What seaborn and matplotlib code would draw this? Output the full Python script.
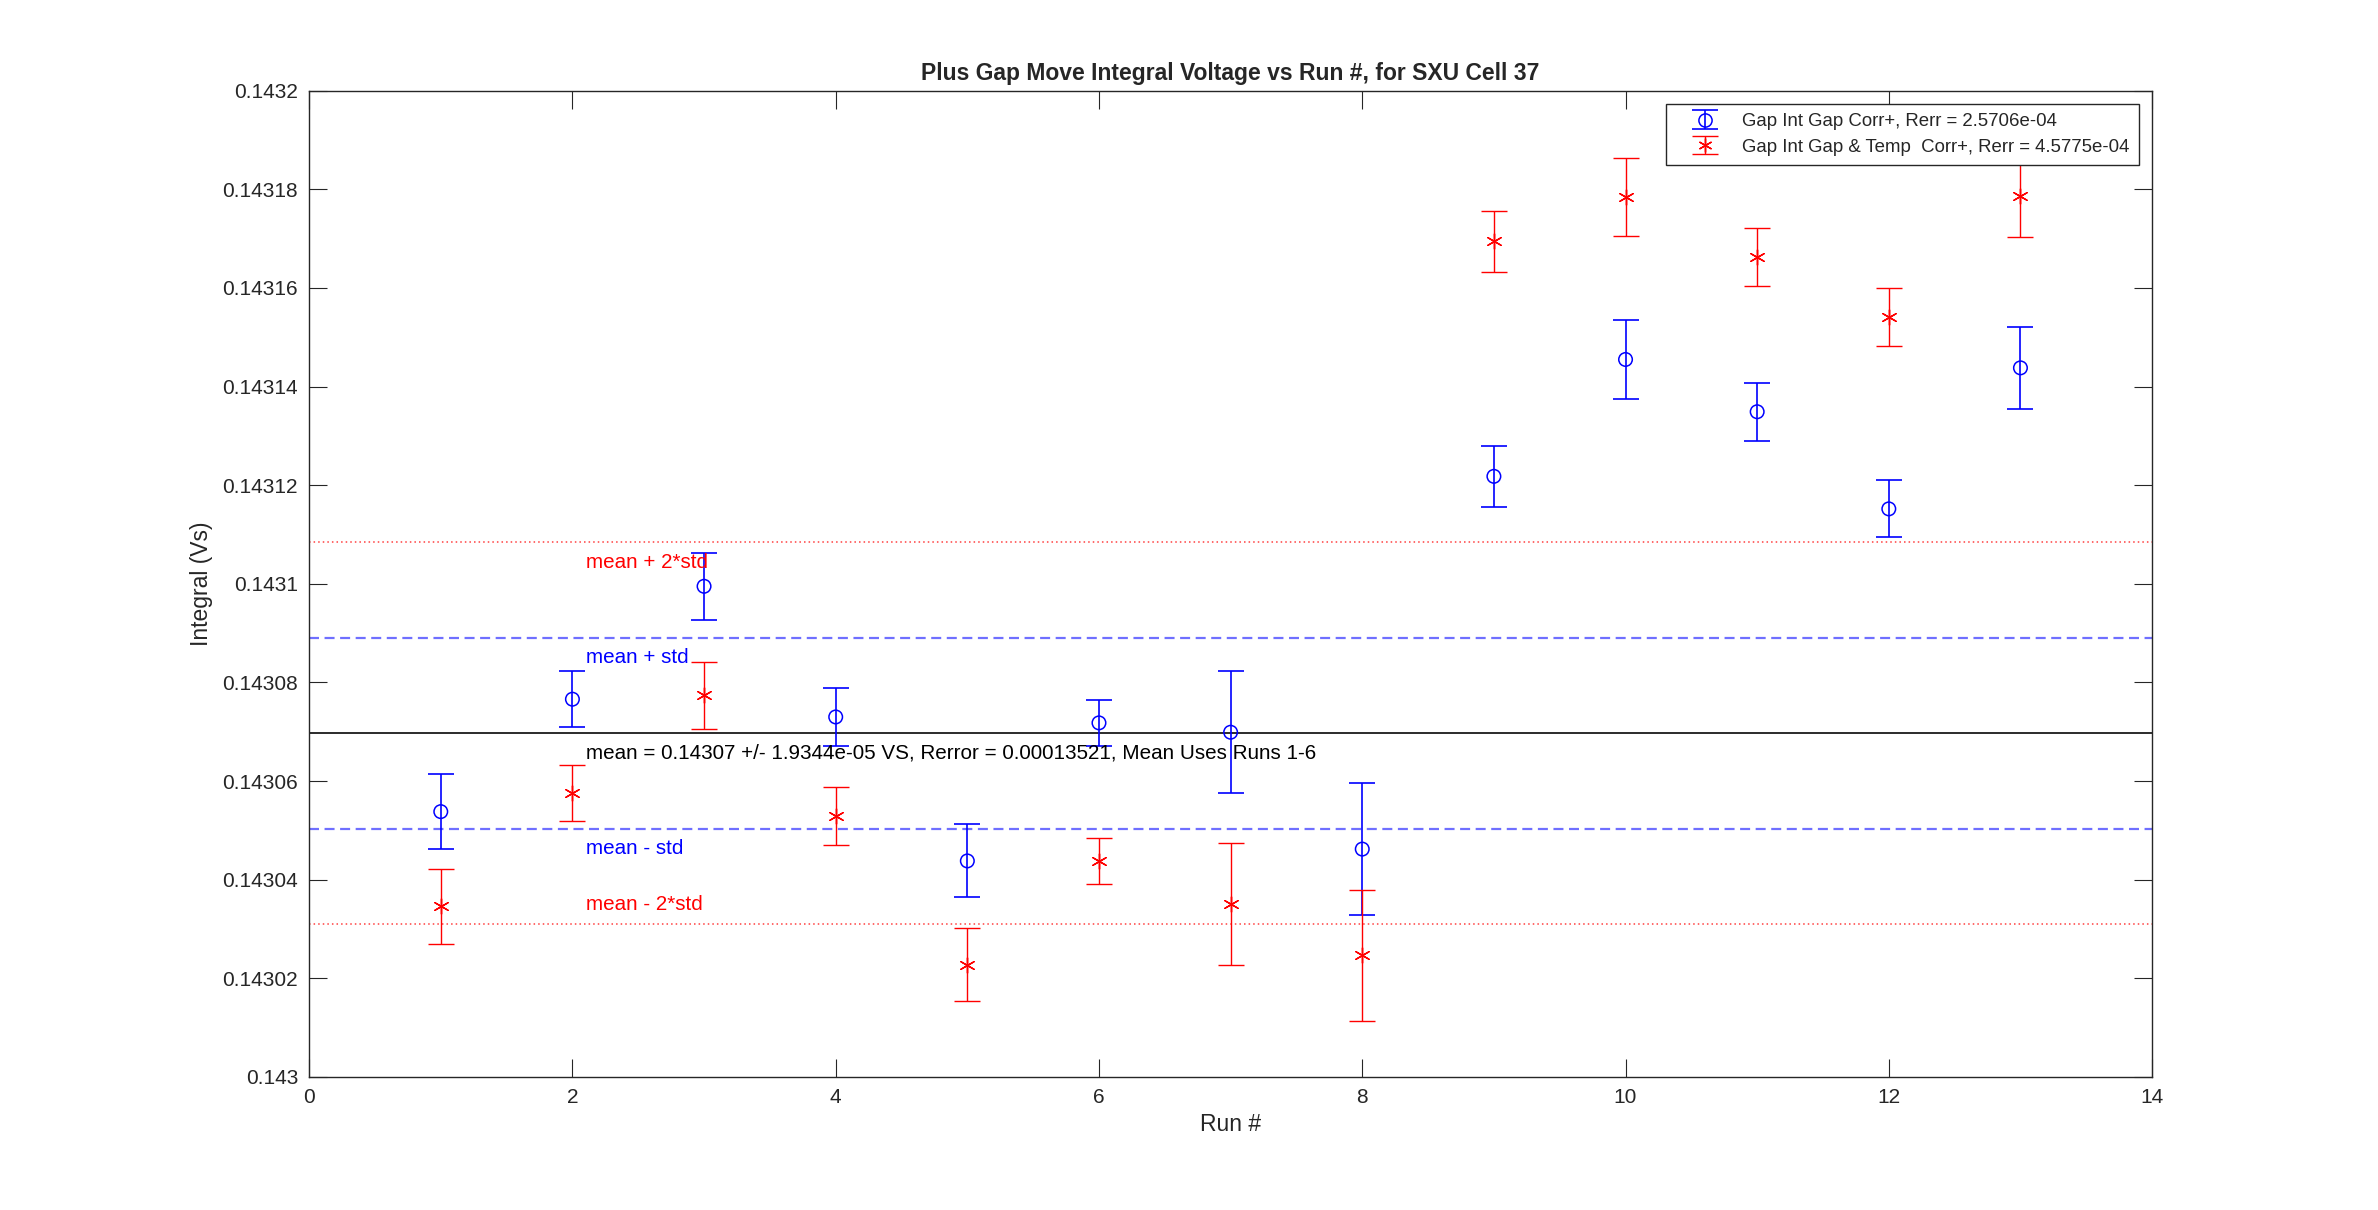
import numpy as np
import pandas as pd
import matplotlib
matplotlib.use("Agg")
import matplotlib.pyplot as plt
import seaborn as sns
from matplotlib.lines import Line2D
from matplotlib.legend_handler import HandlerTuple

# data
runs = list(range(1, 14))
gap_corr = [0.1430538, 0.1430766, 0.1430995, 0.1430730, 0.1430438, 0.1430718, 0.1430699,
            0.1430462, 0.1431218, 0.1431455, 0.1431349, 0.1431152, 0.1431438]
gap_corr_err = [7.6e-6, 5.7e-6, 6.8e-6, 5.8e-6, 7.4e-6, 4.6e-6, 12.4e-6,
                13.4e-6, 6.2e-6, 8.0e-6, 5.9e-6, 5.8e-6, 8.3e-6]
gap_temp_corr = [0.1430346, 0.1430576, 0.1430774, 0.1430529, 0.1430227, 0.1430438, 0.1430350,
                 0.1430247, 0.1431695, 0.1431784, 0.1431663, 0.1431541, 0.1431786]
gap_temp_corr_err = [7.6e-6, 5.7e-6, 6.8e-6, 5.9e-6, 7.4e-6, 4.6e-6, 12.4e-6,
                     13.3e-6, 6.2e-6, 7.9e-6, 5.9e-6, 5.9e-6, 8.2e-6]
mean_val = 0.1430697
std_val = 1.9344e-05

blue_label = "Gap Int Gap Corr+, Rerr = 2.5706e-04"
red_label = "Gap Int Gap & Temp  Corr+, Rerr = 4.5775e-04"
title = "Plus Gap Move Integral Voltage vs Run #, for SXU Cell 37"
mean_text = "mean = 0.14307 +/- 1.9344e-05 VS, Rerror = 0.00013521, Mean Uses Runs 1-6"
x_ticks = [0, 2, 4, 6, 8, 10, 12, 14]
y_ticks = [0.143, 0.14302, 0.14304, 0.14306, 0.14308, 0.1431, 0.14312, 0.14314, 0.14316, 0.14318, 0.1432]
y_tick_labels = ["0.143", "0.14302", "0.14304", "0.14306", "0.14308", "0.1431",
                 "0.14312", "0.14314", "0.14316", "0.14318", "0.1432"]

df = pd.DataFrame({"run": runs, "gap": gap_corr, "gap_err": gap_corr_err,
                   "temp": gap_temp_corr, "temp_err": gap_temp_corr_err})

sns.set_theme(style="white")
plt.rcParams['font.family'] = ['Liberation Sans', 'DejaVu Sans']

fig = plt.figure(figsize=(23.78, 12.10), dpi=100)
ax = fig.add_axes([0.13, 0.11, 0.775, 0.815])

blue = "#0000ff"
red = "#ff0000"

# reference lines
ax.axhline(mean_val, color="#1a1a1a", lw=1.3, zorder=1)
ax.axhline(mean_val + std_val, color="#6f6fff", lw=1.6, ls=(0, (4.5, 2.5)), zorder=1)
ax.axhline(mean_val - std_val, color="#6f6fff", lw=1.6, ls=(0, (4.5, 2.5)), zorder=1)
ax.axhline(mean_val + 2 * std_val, color="#ff4040", lw=1.1, ls=(0, (1, 2.0)), zorder=1)
ax.axhline(mean_val - 2 * std_val, color="#ff4040", lw=1.1, ls=(0, (1, 2.0)), zorder=1)

# error bars
eb_blue = ax.errorbar(df["run"], df["gap"], yerr=df["gap_err"], fmt="none",
                      ecolor=blue, elinewidth=1.2, capsize=9.5, capthick=1.2, zorder=3)
eb_red = ax.errorbar(df["run"], df["temp"], yerr=df["temp_err"], fmt="none",
                     ecolor=red, elinewidth=1.0, capsize=9.5, capthick=1.0, zorder=3)

# markers
sns.scatterplot(data=df, x="run", y="gap", marker="o", s=95, facecolor="none",
                edgecolor=blue, linewidth=1.1, ax=ax, legend=False, zorder=4)
sns.scatterplot(data=df, x="run", y="temp", marker=(6, 2, 0), s=120, color=red,
                linewidth=1.0, ax=ax, legend=False, zorder=4)

# annotations
fs_txt = 14.9
ax.text(2.1, mean_val + 2 * std_val - 4e-6, "mean + 2*std", color=red, fontsize=fs_txt, va="center")
ax.text(2.1, mean_val + std_val - 4e-6, "mean + std", color=blue, fontsize=fs_txt, va="center")
ax.text(2.1, mean_val - 4e-6, mean_text, color="black", fontsize=fs_txt, va="center")
ax.text(2.1, mean_val - std_val - 4e-6, "mean - std", color=blue, fontsize=fs_txt, va="center")
ax.text(2.1, mean_val - 2 * std_val + 4e-6, "mean - 2*std", color=red, fontsize=fs_txt, va="center")

ax.set_xlim(0, 14)
ax.set_ylim(0.143, 0.1432)
ax.set_xticks(x_ticks)
ax.set_yticks(y_ticks, labels=y_tick_labels)
ax.tick_params(direction="in", length=13, width=0.8, top=True, right=True, bottom=True, left=True,
               labelsize=15, colors="#262626", pad=8)
for s in ax.spines.values():
    s.set_color("#262626")
    s.set_linewidth(1.0)

ax.set_title(title, fontsize=16.5, fontweight="bold", pad=8)
ax.set_xlabel("Run #", fontsize=16.5, color="#262626", labelpad=4)
ax.set_ylabel("Integral (Vs)", fontsize=16.5, color="#262626", labelpad=7)

h_blue = (eb_blue, Line2D([], [], ls="none", marker="o", mfc="none", mec=blue, ms=9.5, mew=1.1))
h_red = (eb_red, Line2D([], [], ls="none", marker=(6, 2, 0), color=red, ms=10, mew=1.0))
leg = ax.legend([h_blue, h_red], [blue_label, red_label], loc="upper right",
                handler_map={tuple: HandlerTuple(ndivide=1)}, fontsize=13.4,
                frameon=True, fancybox=False, framealpha=1, edgecolor="#262626",
                borderaxespad=0.7, handlelength=3.2, handletextpad=0.4,
                labelspacing=0.45, borderpad=0.5)
leg.get_frame().set_linewidth(1.0)

fig.savefig("out.png", dpi=100, facecolor="white")
